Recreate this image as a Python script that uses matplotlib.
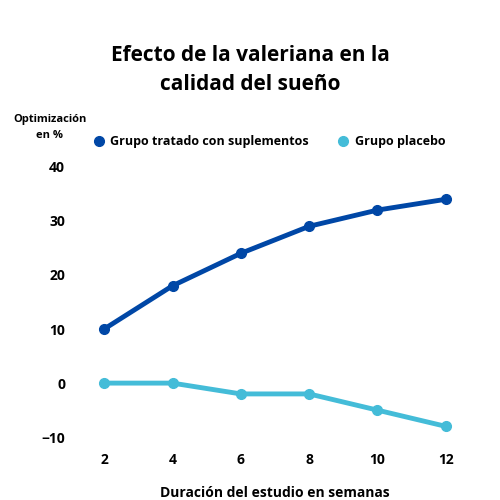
import matplotlib
matplotlib.use("Agg")
import matplotlib.pyplot as plt

weeks = [2, 4, 6, 8, 10, 12]
treated = [10, 18, 24, 29, 32, 34]
placebo = [0, 0, -2, -2, -5, -8]
yticks = [-10, 0, 10, 20, 30, 40]

plt.rcParams['font.family'] = ['Open Sans', 'DejaVu Sans']

fig = plt.figure(figsize=(5, 5), dpi=100)
ax = fig.add_axes([0.14, 0.104, 0.82, 0.584])

ax.plot(weeks, treated, color="#0047a6", linewidth=3.5, marker="o", markersize=7, label="Grupo tratado con suplementos")
ax.plot(weeks, placebo, color="#44bcd8", linewidth=3.5, marker="o", markersize=7, label="Grupo placebo")

ax.set_xlim(1, 13)
ax.set_ylim(-12, 42)
ax.set_xticks(weeks)
ax.set_yticks(yticks)
for s in ax.spines.values():
    s.set_visible(False)
ax.tick_params(length=0, labelsize=10)
for lab in ax.get_xticklabels() + ax.get_yticklabels():
    lab.set_fontweight("bold")
ax.set_xlabel("Duración del estudio en semanas", fontsize=10, fontweight="bold", labelpad=14)

fig.text(0.5, 0.86, "Efecto de la valeriana en la\ncalidad del sueño", ha="center", va="center",
         fontsize=15, fontweight="bold", linespacing=1.5)
fig.text(0.10, 0.745, "Optimización\nen %", ha="center", va="center", fontsize=8, fontweight="bold", linespacing=1.6)

leg = fig.legend(loc="center", bbox_to_anchor=(0.54, 0.716), ncol=2, frameon=False,
                 fontsize=9, handlelength=0.6, columnspacing=2.5, handletextpad=0.6)
for h in leg.legend_handles:
    h.set_linestyle("")
for t in leg.get_texts():
    t.set_fontweight("bold")

fig.savefig("out.png", dpi=100, facecolor="white")
